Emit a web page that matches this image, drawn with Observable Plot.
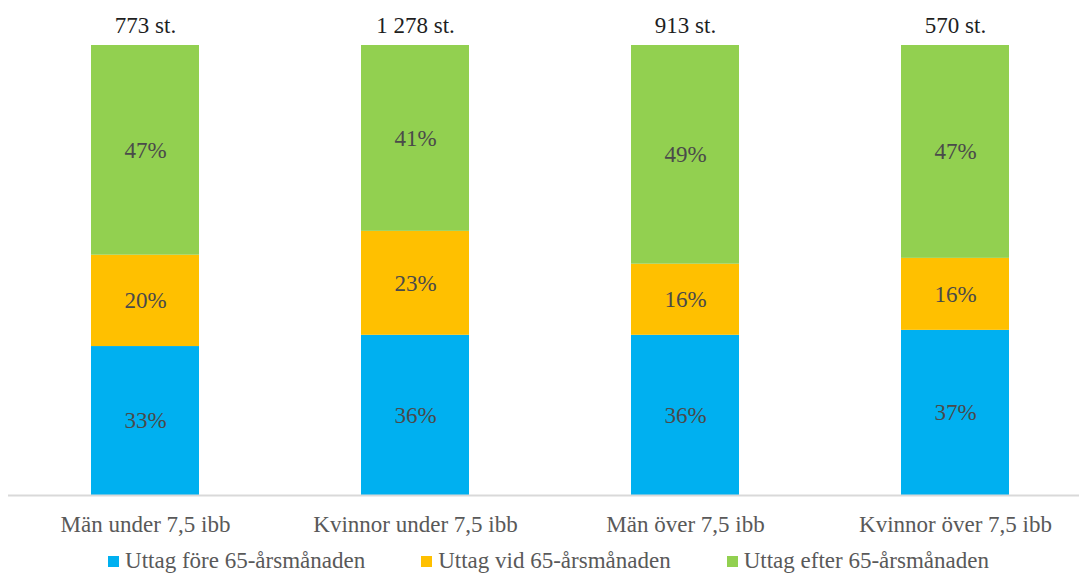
<!DOCTYPE html>
<html>
<head>
<meta charset="utf-8">
<script src="https://cdn.jsdelivr.net/npm/d3@7"></script>
<script src="https://cdn.jsdelivr.net/npm/@observablehq/plot@0.6"></script>
<style>
  html, body { margin: 0; padding: 0; background: #fff; }
  #chart svg { display: block; }
  .legend { display: flex; justify-content: center; align-items: center; gap: 56px;
    font-family: "Liberation Serif", serif; font-size: 23px; color: #595959;
    line-height: 26px; margin-top: 8px; padding-left: 18px; }
  .legend .item { display: flex; align-items: center; }
  .legend .sw { width: 11px; height: 11px; margin-right: 6px; display: inline-block; }
</style>
</head>
<body>
<div id="chart"></div>
<script>
const categories = ["Män under 7,5 ibb", "Kvinnor under 7,5 ibb", "Män över 7,5 ibb", "Kvinnor över 7,5 ibb"];
const totalLabels = ["773 st.", "1 278 st.", "913 st.", "570 st."];
const series = ["Uttag före 65-årsmånaden", "Uttag vid 65-årsmånaden", "Uttag efter 65-årsmånaden"];
const fore = [33.1, 35.6, 35.6, 36.7];
const vid = [20.3, 23.1, 15.8, 16.0];
const efter = [46.6, 41.3, 48.6, 47.3];
const colors = ["#00B0F0", "#FFC000", "#92D050"];

const seriesValues = [fore, vid, efter];
const rows = [];
series.forEach((s, si) => categories.forEach((c, ci) => rows.push({category: c, series: s, value: seriesValues[si][ci]})));
const totals = categories.map((c, ci) => ({category: c, label: totalLabels[ci], sum: d3.sum(seriesValues, v => v[ci])}));

const font = "Liberation Serif";
const chart = Plot.plot({
  width: 1079,
  height: 540,
  marginTop: 45,
  marginBottom: 45,
  marginLeft: 8,
  marginRight: 0,
  style: {fontFamily: font, background: "#fff"},
  x: {domain: categories, range: [9, 1090], paddingInner: 0.6, paddingOuter: 0.3, label: null},
  y: {domain: [0, 100], axis: null},
  color: {domain: series, range: colors},
  marks: [
    Plot.barY(rows, Plot.stackY({x: "category", y: "value", fill: "series", order: series})),
    Plot.text(rows, Plot.stackY({x: "category", y: "value", z: "series", order: series,
      text: d => Math.round(d.value) + "%", fill: "#4a4a4a", fontSize: 23})),
    Plot.text(totals, {x: "category", y: "sum", text: "label", dy: -20, fill: "#1f1f1f", fontSize: 23}),
    Plot.ruleY([0], {stroke: "#d9d9d9", strokeWidth: 2}),
    Plot.axisX({tickSize: 0, tickPadding: 20, fontSize: 23, color: "#595959", label: null})
  ]
});
document.getElementById("chart").appendChild(chart);

const legend = document.createElement("div");
legend.className = "legend";
series.forEach((s, i) => {
  const item = document.createElement("div");
  item.className = "item";
  const sw = document.createElement("span");
  sw.className = "sw";
  sw.style.background = colors[i];
  const t = document.createElement("span");
  t.textContent = s;
  item.appendChild(sw);
  item.appendChild(t);
  legend.appendChild(item);
});
document.body.appendChild(legend);
</script>
</body>
</html>
